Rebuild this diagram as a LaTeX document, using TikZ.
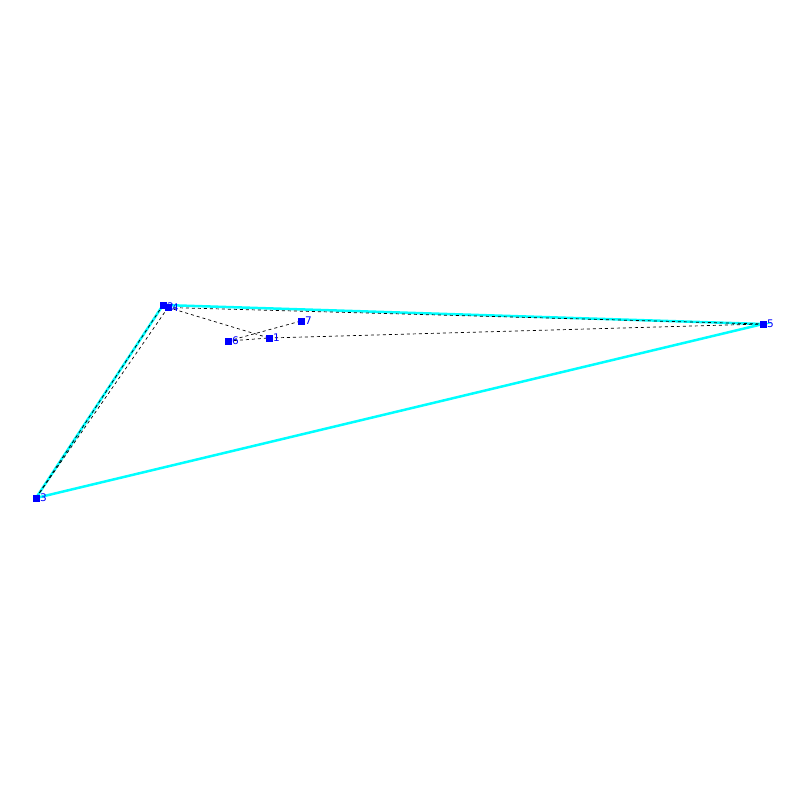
\documentclass[tikz,border=0pt]{standalone}
\usepackage{fontspec}
\setmainfont{DejaVu Sans}
\definecolor{hullcyan}{RGB}{0,255,255}
\definecolor{ptblue}{RGB}{0,0,255}
\begin{document}
\begin{tikzpicture}[x=1pt,y=-1pt,
  pt/.style={fill=ptblue, inner sep=0pt, minimum size=7pt, draw=none},
  lab/.style={text=ptblue, font=\fontsize{10.5}{10.5}\selectfont, inner sep=0pt, anchor=west},
  hull/.style={hullcyan, line width=2.5pt},
  dsh/.style={black, line width=0.7pt, dash pattern=on 3pt off 3pt}]
\useasboundingbox (0,0) rectangle (800,800);
\coordinate (p1) at (269,338);
\coordinate (p2) at (163,305);
\coordinate (p3) at (36,498);
\coordinate (p4) at (168,307.5);
\coordinate (p5) at (763,324);
\coordinate (p6) at (228,341);
\coordinate (p7) at (301,321);
% hull
\draw[hull] (p3) -- (p2) -- (p5) -- cycle;
% dashed
\draw[dsh] (p2) -- (p3);
\draw[dsh] (p4) -- (p3);
\draw[dsh] (p4) -- (p5);
\draw[dsh] (p4) -- (p1);
\draw[dsh] (p6) -- (p1);
\draw[dsh] (p6) -- (p7);
\draw[dsh] (p1) -- (p5);
% points
\foreach \i in {1,...,7} {
  \node[pt] (n\i) at (p\i) {};
}
\node[lab] (l1) at ([xshift=4pt]p1) {1};
\node[lab] (l2) at ([xshift=4pt,yshift=-1.5pt]p2) {2};
\node[lab] (l3) at ([xshift=4pt]p3) {3};
\node[lab] (l4) at ([xshift=4pt]p4) {4};
\node[lab] (l5) at ([xshift=4pt]p5) {5};
\node[lab] (l6) at ([xshift=4pt]p6) {6};
\node[lab] (l7) at ([xshift=4pt]p7) {7};
\end{tikzpicture}
\end{document}
